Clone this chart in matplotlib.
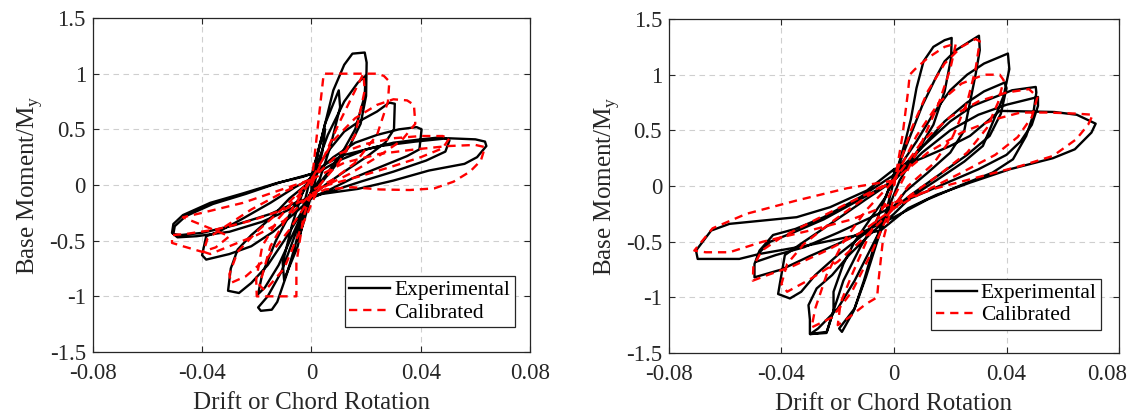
import matplotlib
matplotlib.use('Agg')
import matplotlib.pyplot as plt
import matplotlib.transforms as mtransforms
import numpy as np

# ---- left specimen, experimental cycles (drift, M/My) ----
left_exp_c1 = [(0.000, 0.05), (0.003, 0.35), (0.005, 0.50), (0.004, 0.30), (0.001, 0.00),
               (-0.003, -0.35), (-0.005, -0.50), (-0.004, -0.30), (-0.001, 0.00)]
left_exp_c2 = [(0.000, 0.05), (0.005, 0.55), (0.010, 0.85), (0.0105, 0.70), (0.007, 0.35),
               (0.003, 0.05), (-0.001, -0.10), (-0.005, -0.55), (-0.010, -0.85),
               (-0.0105, -0.70), (-0.007, -0.35), (-0.003, -0.05), (0.000, 0.05)]
left_exp_c3 = [(0.000, 0.08), (0.004, 0.45), (0.008, 0.85), (0.012, 1.08), (0.015, 1.18),
               (0.0195, 1.19), (0.0202, 1.10), (0.0200, 0.80), (0.018, 0.55), (0.014, 0.35),
               (0.008, 0.15), (0.003, 0.00), (-0.002, -0.15), (-0.006, -0.45), (-0.011, -0.78),
               (-0.016, -1.00), (-0.0195, -1.10), (-0.0185, -1.13), (-0.0145, -1.12),
               (-0.0125, -1.05), (-0.009, -0.80), (-0.006, -0.55), (-0.003, -0.25), (0.000, -0.05)]
left_exp_c4 = [(0.000, 0.05), (0.006, 0.45), (0.012, 0.75), (0.017, 0.92), (0.0198, 0.98),
               (0.0195, 0.80), (0.016, 0.50), (0.011, 0.28), (0.005, 0.08), (0.000, -0.08),
               (-0.006, -0.40), (-0.012, -0.72), (-0.017, -0.92), (-0.0195, -0.98),
               (-0.018, -0.80), (-0.013, -0.50), (-0.007, -0.22), (-0.002, -0.02)]
left_exp_c5 = [(0.000, 0.08), (0.006, 0.30), (0.012, 0.48), (0.018, 0.58), (0.024, 0.66),
               (0.0285, 0.74), (0.0305, 0.73), (0.0302, 0.50), (0.027, 0.38), (0.020, 0.25),
               (0.012, 0.12), (0.005, 0.00), (0.000, -0.10), (-0.005, -0.30), (-0.010, -0.50),
               (-0.016, -0.72), (-0.022, -0.88), (-0.0265, -0.97), (-0.0305, -0.95),
               (-0.0295, -0.75), (-0.027, -0.58), (-0.022, -0.45), (-0.015, -0.30),
               (-0.008, -0.12), (-0.002, 0.00)]
left_exp_c6 = [(0.000, 0.08), (0.008, 0.25), (0.016, 0.38), (0.024, 0.45), (0.032, 0.50),
               (0.0385, 0.52), (0.0403, 0.50), (0.0395, 0.32), (0.035, 0.26), (0.025, 0.16),
               (0.015, 0.06), (0.006, -0.05), (0.000, -0.12), (-0.006, -0.25), (-0.014, -0.42),
               (-0.022, -0.55), (-0.030, -0.62), (-0.0385, -0.67), (-0.0400, -0.63),
               (-0.0385, -0.46), (-0.034, -0.42), (-0.025, -0.30), (-0.015, -0.16),
               (-0.006, -0.02), (0.000, 0.06)]
left_exp_c7 = [(0.000, 0.08), (0.010, 0.22), (0.020, 0.32), (0.030, 0.38), (0.040, 0.41),
               (0.048, 0.43), (0.0505, 0.40), (0.049, 0.30), (0.042, 0.22), (0.030, 0.12),
               (0.018, 0.03), (0.008, -0.05), (0.000, -0.10), (-0.008, -0.22), (-0.018, -0.33),
               (-0.030, -0.42), (-0.042, -0.46), (-0.049, -0.47), (-0.051, -0.43),
               (-0.0505, -0.35), (-0.047, -0.27), (-0.037, -0.16), (-0.025, -0.075),
               (-0.013, 0.015), (-0.003, 0.075)]
left_exp_c8 = [(0.000, 0.10), (0.006, 0.20), (0.012, 0.27), (0.025, 0.35), (0.038, 0.39),
               (0.050, 0.42), (0.060, 0.41), (0.0635, 0.39), (0.0640, 0.35), (0.0606, 0.25),
               (0.056, 0.19), (0.043, 0.13), (0.030, 0.04), (0.017, -0.035), (0.004, -0.08),
               (-0.005, -0.15), (-0.015, -0.26), (-0.028, -0.36), (-0.040, -0.43),
               (-0.048, -0.45), (-0.0505, -0.44), (-0.050, -0.37), (-0.046, -0.28),
               (-0.036, -0.17), (-0.024, -0.08), (-0.012, 0.02), (0.000, 0.10)]

# ---- left specimen, calibrated model ----
left_cal_c1 = [(0.000, 0.00), (0.002, 0.45), (0.0045, 1.00), (0.012, 1.00), (0.020, 1.00),
               (0.024, 1.00), (0.0265, 0.98), (0.0285, 0.93), (0.028, 0.75), (0.024, 0.45),
               (0.016, 0.20), (0.008, 0.05), (0.000, -0.05), (-0.003, -0.30), (-0.0055, -0.70),
               (-0.0055, -1.00), (-0.012, -1.00), (-0.020, -1.00), (-0.0202, -0.85),
               (-0.018, -0.55), (-0.012, -0.30), (-0.005, -0.10), (0.000, 0.05)]
left_cal_c2 = [(0.000, 0.00), (0.010, 0.55), (0.019, 1.00), (0.0195, 0.85), (0.016, 0.45),
               (0.010, 0.20), (0.003, 0.00), (-0.004, -0.40), (-0.010, -0.75), (-0.017, -0.95),
               (-0.019, -0.90), (-0.015, -0.55), (-0.008, -0.25), (0.000, 0.05)]
left_cal_c3 = [(0.000, 0.05), (0.008, 0.40), (0.016, 0.60), (0.024, 0.72), (0.030, 0.77),
               (0.035, 0.76), (0.0375, 0.72), (0.038, 0.55), (0.033, 0.40), (0.024, 0.25),
               (0.014, 0.10), (0.004, -0.02), (0.000, -0.10), (-0.008, -0.40), (-0.016, -0.65),
               (-0.024, -0.82), (-0.0295, -0.88), (-0.030, -0.80), (-0.027, -0.60),
               (-0.020, -0.42), (-0.010, -0.20), (0.000, 0.05)]
left_cal_c4 = [(0.000, 0.05), (0.010, 0.28), (0.020, 0.37), (0.030, 0.42), (0.040, 0.44),
               (0.048, 0.44), (0.0505, 0.42), (0.048, 0.33), (0.040, 0.25), (0.030, 0.17),
               (0.018, 0.08), (0.006, 0.00), (0.000, -0.08), (-0.010, -0.32), (-0.020, -0.45),
               (-0.030, -0.55), (-0.037, -0.62), (-0.0395, -0.60), (-0.038, -0.48),
               (-0.032, -0.38), (-0.022, -0.22), (-0.010, -0.06), (0.000, 0.05)]
left_cal_c5 = [(0.000, 0.05), (0.012, 0.20), (0.025, 0.28), (0.038, 0.32), (0.050, 0.35),
               (0.060, 0.36), (0.0635, 0.34), (0.062, 0.22), (0.058, 0.12), (0.052, 0.03),
               (0.045, -0.03), (0.036, -0.045), (0.025, -0.04), (0.015, -0.02), (0.005, -0.04),
               (0.000, -0.10), (-0.010, -0.22), (-0.022, -0.32), (-0.035, -0.40),
               (-0.046, -0.44), (-0.051, -0.45), (-0.051, -0.52), (-0.047, -0.55),
               (-0.040, -0.60), (-0.035, -0.56), (-0.030, -0.46), (-0.040, -0.36),
               (-0.047, -0.29), (-0.040, -0.25), (-0.025, -0.16), (-0.012, -0.05), (0.000, 0.05)]

# ---- right specimen, experimental cycles ----
right_exp_c1 = [(0.000, 0.05), (0.004, 0.40), (0.006, 0.60), (0.008, 0.88), (0.0105, 1.12),
                (0.014, 1.25), (0.018, 1.31), (0.0205, 1.33), (0.0203, 1.15), (0.018, 0.85),
                (0.014, 0.55), (0.008, 0.30), (0.002, 0.05), (-0.002, -0.20), (-0.006, -0.50),
                (-0.010, -0.82), (-0.014, -1.10), (-0.0195, -1.28), (-0.0185, -1.31),
                (-0.0143, -1.12), (-0.0107, -0.85), (-0.0072, -0.55), (-0.003, -0.25), (0.000, 0.05)]
right_exp_c2 = [(0.000, 0.08), (0.005, 0.40), (0.010, 0.72), (0.015, 0.98), (0.018, 1.12),
                (0.022, 1.22), (0.027, 1.30), (0.0302, 1.35), (0.0305, 1.22), (0.029, 1.00),
                (0.027, 0.75), (0.025, 0.50), (0.020, 0.30), (0.012, 0.12), (0.004, -0.05),
                (-0.002, -0.25), (-0.008, -0.55), (-0.014, -0.85), (-0.020, -1.10),
                (-0.027, -1.28), (-0.0298, -1.33), (-0.024, -1.32), (-0.0215, -1.12),
                (-0.0215, -0.95), (-0.018, -0.70), (-0.014, -0.50), (-0.008, -0.28),
                (-0.003, -0.10), (0.000, 0.08)]
right_exp_c3 = [(0.000, 0.10), (0.008, 0.40), (0.014, 0.65), (0.020, 0.86), (0.026, 1.00),
                (0.032, 1.10), (0.0405, 1.19), (0.041, 1.05), (0.039, 0.81), (0.0346, 0.54),
                (0.0316, 0.36), (0.025, 0.22), (0.015, 0.05), (0.006, -0.10), (0.000, -0.25),
                (-0.008, -0.42), (-0.016, -0.62), (-0.022, -0.80), (-0.0275, -0.92),
                (-0.0304, -1.07), (-0.0299, -1.20), (-0.0299, -1.33), (-0.0239, -1.31),
                (-0.0215, -1.12), (-0.018, -0.85), (-0.012, -0.55), (-0.006, -0.30),
                (0.000, 0.10)]
right_exp_c4 = [(0.000, 0.05), (0.010, 0.35), (0.018, 0.58), (0.026, 0.75), (0.032, 0.85),
                (0.0394, 0.93), (0.040, 0.88), (0.038, 0.65), (0.034, 0.45), (0.026, 0.28),
                (0.016, 0.10), (0.006, -0.08), (0.000, -0.20), (-0.010, -0.42), (-0.020, -0.62),
                (-0.028, -0.80), (-0.033, -0.95), (-0.037, -1.01), (-0.0412, -0.97),
                (-0.0406, -0.88), (-0.0388, -0.62), (-0.032, -0.50),
                (-0.022, -0.33), (-0.010, -0.12), (0.000, 0.05)]
right_exp_c5 = [(0.000, 0.10), (0.010, 0.35), (0.020, 0.58), (0.028, 0.72), (0.036, 0.80),
                (0.042, 0.86), (0.0504, 0.89), (0.0506, 0.84), (0.0494, 0.63), (0.047, 0.45),
                (0.0423, 0.24), (0.035, 0.12), (0.025, 0.02), (0.012, -0.12), (0.000, -0.28),
                (-0.010, -0.40), (-0.020, -0.52), (-0.030, -0.63), (-0.040, -0.75),
                (-0.0496, -0.82), (-0.0496, -0.70), (-0.0478, -0.58), (-0.043, -0.44),
                (-0.035, -0.385), (-0.025, -0.28), (-0.012, -0.10), (0.000, 0.10)]
right_exp_c6 = [(0.000, 0.05), (0.010, 0.30), (0.020, 0.50), (0.030, 0.64), (0.040, 0.73),
                (0.0512, 0.80), (0.0512, 0.72), (0.049, 0.55), (0.045, 0.40), (0.040, 0.28),
                (0.030, 0.15), (0.018, 0.02), (0.005, -0.12), (-0.008, -0.28), (-0.020, -0.42),
                (-0.032, -0.55), (-0.042, -0.62), (-0.049, -0.68), (-0.048, -0.60),
                (-0.044, -0.50), (-0.036, -0.42), (-0.025, -0.30), (-0.012, -0.12), (0.000, 0.05)]
right_exp_c7 = [(0.000, 0.15), (0.010, 0.25), (0.020, 0.36), (0.027, 0.45), (0.0376, 0.675),
                (0.047, 0.67), (0.057, 0.665), (0.065, 0.64), (0.0717, 0.56), (0.0702, 0.48),
                (0.0643, 0.33), (0.0565, 0.25), (0.0411, 0.15), (0.027, 0.03), (0.015, -0.08),
                (0.005, -0.20), (-0.0048, -0.40), (-0.0167, -0.46), (-0.031, -0.535),
                (-0.0478, -0.61), (-0.055, -0.655), (-0.0698, -0.655), (-0.0704, -0.58),
                (-0.065, -0.40), (-0.0585, -0.34), (-0.0346, -0.28), (-0.0227, -0.19),
                (-0.0096, -0.04), (0.000, 0.15)]

# ---- right specimen, calibrated model ----
right_cal_c1 = [(0.000, 0.00), (0.003, 0.45), (0.005, 0.85), (0.0056, 1.00), (0.0075, 1.05),
                (0.012, 1.15), (0.018, 1.25), (0.022, 1.28), (0.020, 1.05), (0.016, 0.75),
                (0.010, 0.40), (0.004, 0.10), (0.000, -0.10), (-0.004, -0.50), (-0.0055, -0.85),
                (-0.006, -1.00), (-0.010, -1.06), (-0.016, -1.18), (-0.020, -1.25),
                (-0.019, -1.05), (-0.015, -0.80), (-0.009, -0.45), (-0.003, -0.15), (0.000, 0.00)]
right_cal_c2 = [(0.000, 0.05), (0.006, 0.50), (0.012, 0.85), (0.018, 1.10), (0.024, 1.25),
                (0.029, 1.32), (0.0305, 1.30), (0.029, 1.05), (0.026, 0.75), (0.021, 0.45),
                (0.014, 0.20), (0.005, 0.00), (-0.002, -0.25), (-0.008, -0.60), (-0.015, -0.95),
                (-0.022, -1.18), (-0.0293, -1.27), (-0.028, -1.10), (-0.024, -0.80),
                (-0.018, -0.50), (-0.010, -0.22), (0.000, 0.05)]
right_cal_c3 = [(0.000, 0.05), (0.008, 0.45), (0.016, 0.75), (0.024, 0.92), (0.032, 1.00),
                (0.0376, 1.00), (0.039, 0.95), (0.037, 0.75), (0.033, 0.52), (0.026, 0.30),
                (0.016, 0.10), (0.006, -0.08), (0.000, -0.20), (-0.010, -0.45), (-0.020, -0.68),
                (-0.030, -0.84), (-0.038, -0.95), (-0.040, -0.88), (-0.038, -0.70),
                (-0.032, -0.52), (-0.022, -0.32), (-0.010, -0.10), (0.000, 0.05)]
right_cal_c4 = [(0.000, 0.05), (0.010, 0.40), (0.020, 0.62), (0.030, 0.76), (0.040, 0.84),
                (0.048, 0.87), (0.051, 0.80), (0.049, 0.62), (0.044, 0.44), (0.036, 0.28),
                (0.024, 0.12), (0.010, -0.06), (0.000, -0.20), (-0.012, -0.42), (-0.024, -0.58),
                (-0.036, -0.72), (-0.045, -0.80), (-0.0502, -0.85), (-0.050, -0.72),
                (-0.047, -0.58), (-0.040, -0.46), (-0.030, -0.33), (-0.016, -0.15), (0.000, 0.05)]
right_cal_c5 = [(0.000, 0.05), (0.012, 0.30), (0.024, 0.48), (0.036, 0.60), (0.045, 0.66),
                (0.055, 0.66), (0.065, 0.65), (0.0707, 0.64), (0.069, 0.55), (0.0648, 0.42),
                (0.0565, 0.27), (0.045, 0.18), (0.030, 0.08), (0.015, -0.02), (0.000, -0.15),
                (-0.015, -0.30), (-0.030, -0.40), (-0.0466, -0.50), (-0.0585, -0.595),
                (-0.0669, -0.595), (-0.071, -0.58), (-0.0645, -0.38), (-0.0525, -0.25),
                (-0.0346, -0.13), (-0.0167, -0.02), (0.000, 0.05)]

left_exp = [left_exp_c1, left_exp_c2, left_exp_c3, left_exp_c4, left_exp_c5, left_exp_c6,
            left_exp_c7, left_exp_c8]
left_cal = [left_cal_c1, left_cal_c2, left_cal_c3, left_cal_c4, left_cal_c5]
right_exp = [right_exp_c1, right_exp_c2, right_exp_c3, right_exp_c4, right_exp_c5,
             right_exp_c6, right_exp_c7]
right_cal = [right_cal_c1, right_cal_c2, right_cal_c3, right_cal_c4, right_cal_c5]

x_ticks = [-0.08, -0.04, 0, 0.04, 0.08]
x_labels = ['-0.08', '-0.04', '0', '0.04', '0.08']
y_ticks = [-1.5, -1, -0.5, 0, 0.5, 1, 1.5]
y_labels = ['-1.5', '-1', '-0.5', '0', '0.5', '1', '1.5']

plt.rcParams['font.family'] = ['Liberation Serif', 'DejaVu Serif']
plt.rcParams['mathtext.fontset'] = 'custom'
plt.rcParams['mathtext.rm'] = 'Liberation Serif'

ink = '#262626'


def join(cycles):
    pts = np.array([p for c in cycles for p in c])
    return pts[:, 0], pts[:, 1]


def draw(ax, exp, cal, legend_pos):
    ax.grid(True, color='#cfcfcf', linestyle=(0, (5, 4)), linewidth=0.8)
    ax.set_axisbelow(True)
    ex, ey = join(exp)
    cx, cy = join(cal)
    ax.plot(ex, ey, color='black', linewidth=1.7, label='Experimental', zorder=3)
    ax.plot(cx, cy, color='#ff0000', linewidth=1.7, linestyle=(0, (3.5, 2.5)),
            label='Calibrated', zorder=4)
    ax.set_xlim(-0.08, 0.08)
    ax.set_ylim(-1.5, 1.5)
    ax.set_xticks(x_ticks)
    ax.set_xticklabels(x_labels)
    ax.set_yticks(y_ticks)
    ax.set_yticklabels(y_labels)
    ax.tick_params(direction='in', top=True, right=True, labelsize=16.5, colors=ink,
                   length=4, width=0.8)
    ax.tick_params(axis='x', pad=8)
    ax.tick_params(axis='y', pad=5)
    for s in ax.spines.values():
        s.set_color(ink)
        s.set_linewidth(0.9)
    ax.set_xlabel('Drift or Chord Rotation', fontsize=18, color=ink, labelpad=6)
    ax.set_ylabel(r'Base Moment/M$_\mathregular{y}$', fontsize=18, color=ink, labelpad=3)
    leg = ax.legend(loc='lower right', bbox_to_anchor=legend_pos, fontsize=15.5,
                    frameon=True, fancybox=False, edgecolor=ink, framealpha=1,
                    handlelength=1.9, handletextpad=0.2, borderpad=0.2,
                    labelspacing=0.1, borderaxespad=0)
    leg.get_frame().set_linewidth(0.9)


fig = plt.figure(figsize=(11.31, 4.19), dpi=100)
ax1 = fig.add_axes([0.0820, 0.1599, 0.3867, 0.7971])
ax2 = fig.add_axes([0.5915, 0.1575, 0.3979, 0.7971])
draw(ax1, left_exp, left_cal, (0.965, 0.075))
draw(ax2, right_exp, right_cal, (0.96, 0.07))

# the last x label of the right panel sits a little left of its tick in the original
last = ax2.get_xticklabels()[-1]
last.set_transform(last.get_transform() + mtransforms.ScaledTranslation(-12 / 100, 0, fig.dpi_scale_trans))

fig.savefig('out.png', dpi=100)
